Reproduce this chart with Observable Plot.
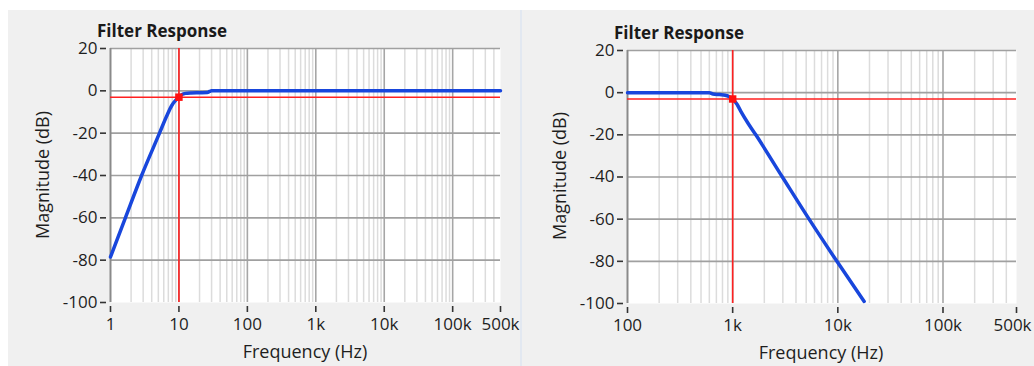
<!DOCTYPE html>
<html>
<head>
<meta charset="utf-8">
<script src="https://cdn.jsdelivr.net/npm/d3@7"></script>
<script src="https://cdn.jsdelivr.net/npm/@observablehq/plot@0.6"></script>
<style>
  html, body { margin: 0; padding: 0; background: #ffffff; }
  #page { position: relative; width: 1034px; height: 366px; overflow: hidden; font-family: "Open Sans", "Noto Sans", sans-serif; color: #1e1e1e; }
  .panel { position: absolute; background: #f0f0f0; }
  .sep { position: absolute; background: #e2e8f1; }
  .title { position: absolute; font-weight: bold; font-size: 17px; line-height: 20px; white-space: nowrap; color: #1a1a1a; }
  .xlabel { position: absolute; font-size: 18px; line-height: 22px; white-space: nowrap; transform: translate(-50%, -50%); color: #1e1e1e; }
  .ylabel { position: absolute; font-size: 18px; line-height: 22px; white-space: nowrap; transform: translate(-50%, -50%) rotate(-90deg); color: #1e1e1e; }
  .chart { position: absolute; top: 0; }
</style>
</head>
<body>
<div id="page">
  <div class="panel" style="left:8px; top:10px; width:512px; height:356px;"></div>
  <div class="panel" style="left:522px; top:10px; width:512px; height:356px;"></div>
  <div class="sep" style="left:520px; top:10px; width:2px; height:356px;"></div>
  <div id="left" class="chart" style="left:0px;"></div>
  <div id="right" class="chart" style="left:517px;"></div>
  <div class="title" style="left:97px; top:21px;">Filter Response</div>
  <div class="title" style="left:614px; top:23px;">Filter Response</div>
  <div class="xlabel" style="left:305px; top:351px;">Frequency (Hz)</div>
  <div class="xlabel" style="left:821px; top:352px;">Frequency (Hz)</div>
  <div class="ylabel" style="left:42px; top:175px;">Magnitude (dB)</div>
  <div class="ylabel" style="left:559px; top:176px;">Magnitude (dB)</div>
</div>
<script>
// ---- Data ----
// Left: high-pass response
const leftFreq = [1, 1.65, 2.85, 5.2, 6.6, 7.9, 9, 10, 11, 12.5, 15, 20, 26, 28, 30, 100, 1000, 10000, 100000, 500000];
const leftMag  = [-78.5, -60, -40, -20, -12, -6.8, -4.4, -3, -1.8, -1.2, -1.0, -0.9, -0.8, -0.3, 0, 0, 0, 0, 0, 0];
const leftCutoff = 10;

// Right: low-pass response
const rightFreq = [100, 300, 600, 650, 750, 850, 920, 1000, 1100, 1200, 1400, 1660, 2970, 5330, 9800, 17800];
const rightMag  = [0, 0, 0, -0.6, -0.9, -1.2, -1.8, -3, -5.5, -9, -14.5, -20, -40, -60, -80, -99];
const rightCutoff = 1000;

const cutoffDb = -3;

// Axis ticks
const leftXTicks = [1, 10, 100, 1000, 10000, 100000, 500000];
const leftXLabels = ["1", "10", "100", "1k", "10k", "100k", "500k"];
const rightXTicks = [100, 1000, 10000, 100000, 500000];
const rightXLabels = ["100", "1k", "10k", "100k", "500k"];
const yTicks = [20, 0, -20, -40, -60, -80, -100];
const yGrid = [20, 0, -20, -40, -60, -80];
const minorMultipliers = [2, 3, 4, 5, 6, 7, 8, 9];

function minorTicks(lo, hi) {
  const out = [];
  for (let d = lo; d < hi; d *= 10) for (const m of minorMultipliers) if (d * m < hi) out.push(d * m);
  return out;
}

function makeChart(opts) {
  const {freq, mag, cutoff, domain, xTicks, xLabels, width, marginLeft, marginRight, marginTop, marginBottom, lastDx} = opts;
  const majors = xTicks.filter(v => Math.abs(Math.log10(v) - Math.round(Math.log10(v))) < 1e-9 && v > domain[0]);
  const pts = freq.map((f, i) => ({f, m: mag[i]}));
  const tickLabels = xTicks.map((v, i) => ({v, label: xLabels[i]}));
  const lastLabel = tickLabels.slice(-1);
  const otherLabels = tickLabels.slice(0, -1);
  return Plot.plot({
    width, height: 366,
    marginLeft, marginRight, marginTop, marginBottom,
    style: {background: "transparent", fontFamily: "'Open Sans', 'Noto Sans', sans-serif", fontSize: "17px", color: "#1e1e1e", overflow: "visible"},
    x: {type: "log", domain},
    y: {domain: [-100, 20]},
    marks: [
      Plot.frame({fill: "white", stroke: null}),
      Plot.ruleX(minorTicks(domain[0], domain[1]), {stroke: "#dcdcdc", strokeWidth: 1.5}),
      Plot.ruleX(majors, {stroke: "#a6a6a6", strokeWidth: 1.6}),
      Plot.ruleY(yGrid, {stroke: "#a0a0a0", strokeWidth: 1.6}),
      Plot.ruleX([domain[0]], {stroke: "#8a8a8a", strokeWidth: 2}),
      Plot.ruleY([cutoffDb], {stroke: "#ff2020", strokeWidth: 1.6}),
      Plot.ruleX([cutoff], {stroke: "#ff2020", strokeWidth: 1.6}),
      Plot.line(pts, {x: "f", y: "m", curve: "monotone-x", stroke: "#1846dc", strokeWidth: 3.5, strokeLinejoin: "round", strokeLinecap: "round"}),
      Plot.dot([{f: cutoff, m: cutoffDb}], {x: "f", y: "m", symbol: "square", fill: "#ff1010", stroke: null, r: 4.2}),
      Plot.axisY({ticks: yTicks, tickFormat: d => `${d}`, tickSize: 6, tickPadding: 3, dx: -4, stroke: "#333", strokeWidth: 1.6, label: null, fill: "#1e1e1e"}),
      Plot.axisX({ticks: xTicks, tickFormat: () => "", tickSize: 6, tickPadding: 4, dy: 4, stroke: "#333", strokeWidth: 1.6, label: null}),
      Plot.text(otherLabels, {x: "v", text: "label", frameAnchor: "bottom", lineAnchor: "top", dy: 15, fill: "#1e1e1e", fontSize: 17}),
      Plot.text(lastLabel, {x: "v", text: "label", frameAnchor: "bottom", lineAnchor: "top", dy: 15, dx: lastDx, fill: "#1e1e1e", fontSize: 17})
    ]
  });
}

document.getElementById("left").appendChild(makeChart({
  freq: leftFreq, mag: leftMag, cutoff: leftCutoff, domain: [1, 500000],
  xTicks: leftXTicks, xLabels: leftXLabels,
  width: 515, marginLeft: 110, marginRight: 15, marginTop: 48, marginBottom: 64, lastDx: 0
}));

document.getElementById("right").appendChild(makeChart({
  freq: rightFreq, mag: rightMag, cutoff: rightCutoff, domain: [100, 500000],
  xTicks: rightXTicks, xLabels: rightXLabels,
  width: 517, marginLeft: 110, marginRight: 18, marginTop: 50, marginBottom: 63, lastDx: -4
}));
</script>
</body>
</html>
